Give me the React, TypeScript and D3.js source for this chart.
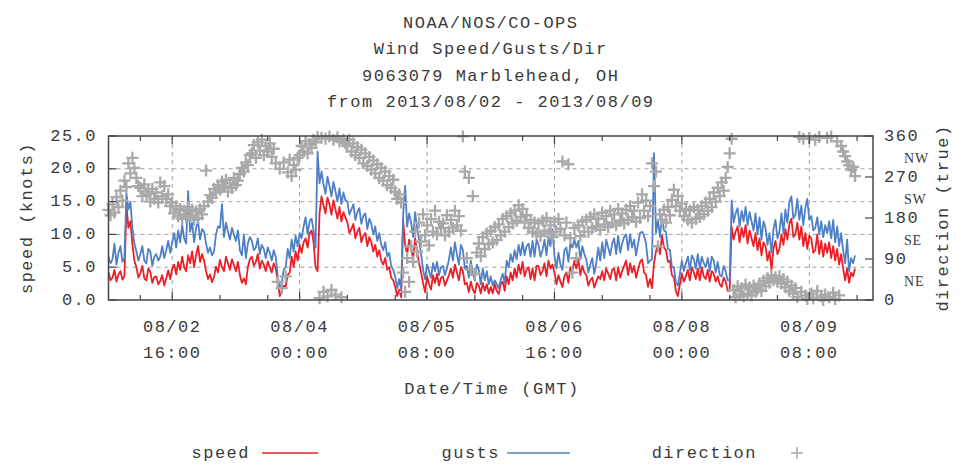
import * as d3 from "d3";

// 30-minute samples starting 2013/08/02 00:00 GMT
const speed = [
  4.2, 3.0, 3.4, 4.6, 2.8, 3.9, 4.4, 3.1, 3.6, 14.5, 11.0, 12.0, 8.5, 6.0, 5.0, 3.4, 4.1, 5.2, 3.3, 3.0, 4.8, 4.3, 2.6, 3.5,
  3.6, 2.4, 2.9, 3.8, 2.2, 3.3, 4.5, 3.2, 4.8, 5.4, 3.9, 5.8, 4.6, 6.6, 5.0, 4.4, 6.8, 5.6, 7.4, 5.0, 6.9, 8.2, 5.8, 7.0,
  6.0, 4.4, 3.2, 3.9, 2.7, 3.5, 5.1, 4.2, 6.1, 5.0, 4.4, 6.6, 5.6, 4.6, 6.2, 5.3, 4.4, 5.8, 3.8, 2.6, 3.3, 2.4, 5.0, 6.2,
  6.6, 5.2, 5.8, 7.0, 4.8, 6.0, 5.4, 4.4, 5.9, 5.0, 4.2, 5.6, 4.8, 3.0, 0.6, 1.4, 2.2, 2.0, 3.8, 4.2, 6.6, 5.0, 7.4, 6.0,
  8.4, 7.2, 8.8, 9.4, 8.0, 10.2, 10.6, 8.8, 5.0, 4.4, 13.2, 15.8, 14.4, 13.2, 15.6, 14.6, 13.0, 15.2, 13.8, 12.4, 14.2, 12.0, 13.4, 12.6,
  11.8, 10.2, 10.8, 11.6, 9.4, 10.4, 11.0, 8.8, 9.8, 10.2, 8.2, 9.6, 8.8, 7.4, 8.4, 6.6, 7.6, 6.0, 5.4, 6.4, 4.6, 5.0, 3.4, 3.0,
  2.0, 0.6, 1.6, 0.4, 12.2, 8.4, 7.0, 9.2, 8.0, 6.2, 9.4, 7.4, 5.6, 4.2, 2.6, 1.2, 3.6, 2.4, 1.6, 3.8, 2.6, 4.0, 2.2, 3.4,
  3.6, 2.2, 3.0, 3.8, 4.8, 3.4, 5.4, 4.2, 3.0, 5.0, 4.4, 2.4, 2.6, 1.2, 2.8, 1.6, 1.0, 2.6, 2.2, 1.0, 2.6, 1.4, 2.4, 1.0,
  2.0, 1.0, 2.4, 1.4, 0.9, 2.4, 2.8, 1.4, 3.6, 2.4, 4.2, 3.0, 4.8, 3.4, 5.4, 4.0, 5.8, 3.6, 4.6, 5.0, 3.2, 4.8, 3.0, 5.2,
  5.2, 3.8, 4.4, 5.6, 3.6, 6.0, 4.8, 5.4, 4.2, 2.4, 3.8, 2.8, 2.0, 3.6, 4.2, 2.6, 5.0, 4.4, 6.0, 4.8, 6.2, 3.8, 5.2, 4.2,
  3.8, 2.2, 3.0, 3.4, 1.9, 2.8, 3.6, 3.2, 4.4, 3.0, 4.8, 4.0, 3.2, 4.6, 4.8, 3.0, 5.0, 3.4, 4.4, 5.2, 6.0, 3.8, 5.6, 4.2,
  5.2, 3.4, 4.6, 5.8, 6.2, 4.2, 3.8, 2.0, 3.2, 1.8, 5.6, 7.4, 8.6, 7.0, 9.8, 8.0, 7.6, 5.8, 6.0, 3.8, 3.4, 1.4, 0.6, 2.4,
  4.0, 2.8, 3.6, 4.6, 3.0, 5.0, 4.2, 3.2, 4.8, 3.0, 5.0, 3.6, 3.2, 4.6, 2.8, 4.4, 4.0, 2.8, 3.6, 2.4, 2.0, 3.4, 2.8, 1.4,
  1.4, 11.2, 9.2, 10.4, 11.2, 8.8, 11.0, 9.6, 11.4, 8.6, 10.6, 9.4, 8.2, 10.2, 7.6, 9.4, 6.8, 8.8, 8.2, 6.0, 7.4, 4.6, 7.8, 9.0,
  7.0, 7.8, 10.0, 8.4, 10.8, 9.2, 11.6, 12.4, 9.6, 10.0, 11.8, 9.2, 11.2, 8.2, 10.2, 7.8, 9.8, 9.4, 7.2, 7.6, 10.0, 7.0, 9.0, 6.6,
  8.6, 7.2, 8.8, 6.4, 8.2, 6.0, 7.8, 5.4, 7.0, 4.8, 3.0, 4.8, 2.6, 4.2, 3.6, 4.8,
];

const gusts = [
  6.6, 5.6, 6.2, 8.6, 5.4, 7.2, 8.2, 5.8, 6.4, 16.2, 13.8, 15.0, 11.0, 8.6, 7.4, 6.0, 7.0, 8.2, 6.0, 5.6, 7.8, 7.4, 5.2, 6.6,
  7.0, 6.0, 6.6, 8.2, 6.4, 7.6, 9.0, 7.2, 8.8, 10.2, 8.0, 10.6, 8.8, 11.4, 9.4, 8.6, 16.6, 10.4, 11.8, 8.8, 11.0, 12.0, 9.2, 10.8,
  10.4, 8.6, 7.2, 8.0, 6.8, 7.4, 10.0, 11.2, 11.0, 14.6, 9.6, 11.8, 10.4, 9.2, 11.0, 10.0, 9.0, 10.6, 7.6, 6.8, 10.0, 6.4, 8.6, 9.6,
  9.0, 7.6, 8.0, 9.4, 7.0, 8.4, 7.8, 6.4, 8.0, 7.2, 6.0, 7.6, 6.6, 3.6, 1.8, 2.6, 4.6, 5.0, 7.8, 6.4, 9.2, 7.4, 9.8, 8.2,
  10.2, 9.4, 11.2, 12.6, 10.0, 12.0, 12.4, 10.6, 8.0, 22.6, 17.8, 19.6, 17.6, 16.2, 18.8, 17.4, 15.8, 18.0, 16.6, 15.0, 17.0, 14.6, 16.4, 15.2,
  15.0, 13.0, 13.8, 14.6, 12.2, 13.4, 14.0, 11.6, 12.8, 13.2, 10.8, 12.4, 11.6, 10.0, 11.2, 9.0, 10.2, 8.4, 7.6, 8.8, 6.6, 7.2, 5.2, 4.6,
  3.6, 1.8, 3.2, 1.6, 13.0, 17.4, 11.2, 13.2, 11.8, 9.6, 13.4, 11.0, 9.2, 7.0, 4.6, 3.2, 5.4, 4.4, 3.4, 5.6, 4.4, 5.8, 3.8, 5.0,
  5.2, 3.8, 4.8, 6.2, 8.0, 6.0, 8.8, 7.0, 5.4, 8.4, 7.6, 4.8, 5.2, 3.4, 6.0, 4.0, 3.0, 5.4, 4.6, 2.4, 4.8, 3.0, 4.4, 2.4,
  3.6, 2.2, 3.0, 2.4, 1.8, 3.0, 4.0, 2.6, 6.0, 5.0, 7.0, 5.8, 7.6, 6.2, 8.4, 6.8, 8.8, 6.8, 8.2, 8.6, 6.6, 9.0, 6.6, 9.2,
  8.4, 6.6, 7.6, 9.2, 6.8, 9.6, 8.2, 10.8, 6.8, 4.8, 7.2, 5.4, 4.6, 7.6, 8.0, 5.8, 8.6, 8.0, 9.2, 8.0, 9.0, 6.2, 8.2, 7.0,
  6.2, 4.2, 5.4, 6.4, 4.0, 5.6, 8.0, 6.0, 8.8, 6.4, 9.2, 8.0, 6.8, 8.6, 9.4, 7.0, 9.8, 7.2, 8.6, 9.6, 10.0, 7.6, 10.0, 8.0,
  9.2, 6.8, 8.6, 10.2, 10.4, 9.8, 8.6, 5.6, 6.0, 6.2, 22.4, 10.2, 12.2, 9.6, 12.6, 10.6, 10.4, 7.8, 7.6, 5.0, 5.0, 2.6, 2.2, 4.0,
  6.0, 4.4, 5.6, 6.6, 4.6, 6.8, 6.2, 4.8, 7.0, 4.8, 6.6, 5.6, 5.0, 6.4, 4.4, 6.6, 6.0, 4.2, 5.8, 3.8, 3.6, 5.2, 4.4, 3.0,
  3.0, 15.2, 11.8, 13.2, 14.0, 11.2, 13.6, 12.0, 14.2, 11.4, 13.4, 12.0, 10.6, 13.2, 10.0, 12.6, 9.2, 12.0, 11.0, 8.4, 10.2, 7.2, 10.8, 12.2,
  9.4, 10.4, 13.2, 10.2, 13.8, 11.8, 15.0, 15.8, 12.4, 13.0, 15.4, 12.2, 14.4, 11.4, 14.0, 15.4, 12.2, 12.8, 10.6, 11.0, 12.6, 10.0, 12.0, 9.6,
  11.4, 10.2, 12.0, 9.4, 12.2, 8.8, 11.2, 8.2, 10.2, 7.6, 5.6, 9.2, 4.4, 6.4, 5.6, 6.8,
];

const direction = [
  198, 186, 210, 192, 226, 204, 240, 218, 262, 248, 300, 278, 312, 290, 268, 250, 246, 228, 254, 232, 238, 216, 244, 222,
  236, 214, 258, 228, 250, 222, 232, 206, 214, 190, 206, 184, 200, 178, 196, 182, 204, 186, 198, 176, 194, 180, 200, 188,
  206, 284, 216, 230, 224, 244, 236, 252, 242, 260, 248, 264, 238, 256, 246, 268, 252, 262, 276, 290, 282, 302, 296, 318,
  322, 340, 312, 346, 328, 352, 318, 338, 326, 344, 314, 332, 300, 40, 288, 26, 302, 52, 280, 308, 272, 296, 286, 312,
  318, 338, 326, 348, 322, 342, 334, 352, 346, 358, 4, 356, 18, 354, 8, 359, 22, 352, 12, 357, 348, 6, 352, 344,
  338, 352, 326, 344, 318, 336, 312, 330, 300, 322, 294, 314, 286, 306, 278, 298, 268, 290, 262, 282, 252, 272, 246, 264,
  238, 222, 232, 214, 60, 18, 92, 40, 118, 84, 150, 106, 170, 128, 188, 142, 164, 120, 178, 150, 196, 144, 172, 158,
  168, 142, 186, 150, 176, 158, 196, 164, 184, 152, 359, 282, 92, 268, 66, 228, 58, 104, 124, 96, 138, 112, 146, 122,
  152, 126, 160, 132, 166, 142, 178, 150, 184, 160, 190, 168, 196, 174, 208, 182, 200, 170, 186, 158, 176, 150, 170, 146,
  168, 140, 174, 152, 180, 146, 164, 138, 172, 150, 178, 156, 304, 142, 170, 298, 136, 60, 158, 92, 164, 140, 172, 150,
  176, 150, 182, 158, 188, 162, 178, 154, 192, 166, 184, 160, 196, 170, 188, 164, 200, 174, 190, 168, 198, 176, 206, 182,
  196, 172, 214, 180, 232, 196, 218, 184, 206, 300, 250, 282, 118, 188, 176, 198, 170, 204, 186, 220, 242, 206, 228, 196,
  212, 184, 200, 176, 196, 170, 204, 178, 198, 182, 206, 188, 214, 196, 222, 204, 236, 216, 246, 228, 258, 240, 268, 292,
  322, 354, 22, 6, 30, 12, 26, 8, 34, 14, 28, 10, 32, 18, 24, 36, 20, 42, 30, 48, 38, 54, 44, 50,
  40, 52, 36, 46, 28, 40, 20, 32, 14, 26, 6, 358, 18, 354, 10, 2, 356, 14, 4, 352, 20, 358, 8, 0,
  12, 356, 6, 359, 16, 2, 348, 10, 338, 326, 316, 304, 296, 286, 292, 272,
];

const startTime = new Date("2013-08-02T00:00:00Z");
const endTime = new Date("2013-08-10T00:00:00Z");
const dateTicks = [
  "2013-08-02T16:00:00Z",
  "2013-08-04T00:00:00Z",
  "2013-08-05T08:00:00Z",
  "2013-08-06T16:00:00Z",
  "2013-08-08T00:00:00Z",
  "2013-08-09T08:00:00Z",
];
const minorDateTicks = [
  "2013-08-02T08:00:00Z",
  "2013-08-03T04:00:00Z",
  "2013-08-03T16:00:00Z",
  "2013-08-04T12:00:00Z",
  "2013-08-05T00:00:00Z",
  "2013-08-05T20:00:00Z",
  "2013-08-06T08:00:00Z",
  "2013-08-07T04:00:00Z",
  "2013-08-07T16:00:00Z",
  "2013-08-08T12:00:00Z",
  "2013-08-09T00:00:00Z",
  "2013-08-09T20:00:00Z",
];
const speedTicks = [0, 5, 10, 15, 20, 25];
const dirTicks = [0, 90, 180, 270, 360];
const compassNames = ["NE", "SE", "SW", "NW"];
const compassDeg = [45, 135, 225, 315];
const titleLines = [
  "NOAA/NOS/CO-OPS",
  "Wind Speed/Gusts/Dir",
  "9063079 Marblehead, OH",
  "from 2013/08/02 - 2013/08/09",
];

const W = 969;
const H = 465;
const plot = { left: 108.5, right: 873, top: 136, bottom: 300 };
const MONO = "'Liberation Mono', 'DejaVu Sans Mono', monospace";
const TEXT = "#3a3a3a";
const RED = "#ea1f27";
const BLUE = "#4f80c6";
const GRAY = "#a9a9a9";

export default function App() {
  const times = speed.map((_, i) => new Date(startTime.getTime() + i * 30 * 60 * 1000));

  const x = d3.scaleUtc().domain([startTime, endTime]).range([plot.left, plot.right]);
  const y = d3.scaleLinear().domain([0, 25]).range([plot.bottom, plot.top]);
  const y2 = d3.scaleLinear().domain([0, 360]).range([plot.bottom, plot.top]);

  const line = d3
    .line<number>()
    .x((_, i) => x(times[i]))
    .y((d) => y(d));

  const fmtDate = d3.utcFormat("%m/%d");
  const fmtTime = d3.utcFormat("%H:%M");
  const fmtSpeed = d3.format(".1f");

  const textStyle = { fontFamily: MONO, fontSize: 17, letterSpacing: 1.5, fill: TEXT };
  const plus = (cx: number, cy: number, r: number) =>
    `M${cx - r},${cy}H${cx + r}M${cx},${cy - r}V${cy + r}`;

  return (
    <svg
      width={W}
      height={H}
      style={{ position: "absolute", left: 0, top: 0, background: "#fff" }}
    >
      <rect width={W} height={H} fill="#fff" />

      {/* title */}
      {titleLines.map((t, i) => (
        <text key={t} x={(plot.left + plot.right) / 2} y={28 + i * 26.3} textAnchor="middle" {...textStyle}>
          {t}
        </text>
      ))}

      {/* grid */}
      <g stroke="#a0a0a0" strokeWidth={1} strokeDasharray="4,4">
        {speedTicks.slice(1, -1).map((v) => (
          <line key={v} x1={plot.left} x2={plot.right} y1={y(v)} y2={y(v)} />
        ))}
        {dateTicks.map((d) => (
          <line key={d} x1={x(new Date(d))} x2={x(new Date(d))} y1={plot.top} y2={plot.bottom} />
        ))}
      </g>

      {/* series */}
      <path d={line(speed) ?? ""} fill="none" stroke={RED} strokeWidth={1.8} strokeLinejoin="round" />
      <path d={line(gusts) ?? ""} fill="none" stroke={BLUE} strokeWidth={1.8} strokeLinejoin="round" />
      <path
        d={direction.map((d, i) => plus(x(times[i]), y2(d), 6)).join("")}
        fill="none"
        stroke={GRAY}
        strokeWidth={2.3}
      />

      {/* border and ticks */}
      <rect
        x={plot.left}
        y={plot.top}
        width={plot.right - plot.left}
        height={plot.bottom - plot.top}
        fill="none"
        stroke="#444"
        strokeWidth={1.5}
      />
      <g stroke="#444" strokeWidth={1.2}>
        {speedTicks.map((v) => (
          <line key={v} x1={plot.left} x2={plot.left + 8} y1={y(v)} y2={y(v)} />
        ))}
        {dirTicks.map((v) => (
          <line key={v} x1={plot.right - 8} x2={plot.right} y1={y2(v)} y2={y2(v)} />
        ))}
        {dateTicks.map((d) => {
          const px = x(new Date(d));
          return (
            <g key={d}>
              <line x1={px} x2={px} y1={plot.bottom} y2={plot.bottom - 8} />
              <line x1={px} x2={px} y1={plot.top} y2={plot.top + 8} />
            </g>
          );
        })}
        {minorDateTicks.map((d) => {
          const px = x(new Date(d));
          return (
            <g key={d}>
              <line x1={px} x2={px} y1={plot.bottom} y2={plot.bottom - 5} />
              <line x1={px} x2={px} y1={plot.top} y2={plot.top + 5} />
            </g>
          );
        })}
      </g>

      {/* left axis labels */}
      {speedTicks.map((v) => (
        <text key={v} x={97} y={y(v)} textAnchor="end" dominantBaseline="central" {...textStyle}>
          {fmtSpeed(v)}
        </text>
      ))}
      <text
        transform={`translate(27,${(plot.top + plot.bottom) / 2}) rotate(-90)`}
        textAnchor="middle"
        dominantBaseline="central"
        {...textStyle}
      >
        speed (knots)
      </text>

      {/* right axis labels */}
      {dirTicks.map((v) => (
        <text key={v} x={884} y={y2(v)} dominantBaseline="central" {...textStyle}>
          {v}
        </text>
      ))}
      {compassNames.map((n, i) => (
        <text
          key={n}
          x={904}
          y={y2(compassDeg[i]) + 2}
          dominantBaseline="central"
          fontFamily="'Liberation Serif', serif"
          fontSize={14}
          letterSpacing={0.8}
          fill={TEXT}
        >
          {n}
        </text>
      ))}
      <text
        transform={`translate(943,${(plot.top + plot.bottom) / 2}) rotate(-90)`}
        textAnchor="middle"
        dominantBaseline="central"
        {...textStyle}
      >
        direction (true)
      </text>

      {/* x axis labels */}
      {dateTicks.map((d) => {
        const px = x(new Date(d));
        return (
          <g key={d}>
            <text x={px} y={332} textAnchor="middle" {...textStyle}>
              {fmtDate(new Date(d))}
            </text>
            <text x={px} y={358} textAnchor="middle" {...textStyle}>
              {fmtTime(new Date(d))}
            </text>
          </g>
        );
      })}
      <text x={492} y={394} textAnchor="middle" {...textStyle}>
        Date/Time (GMT)
      </text>

      {/* legend */}
      <text x={250} y={458} textAnchor="end" {...textStyle}>speed</text>
      <line x1={262} x2={318} y1={453} y2={453} stroke={RED} strokeWidth={1.5} />
      <text x={500} y={458} textAnchor="end" {...textStyle}>gusts</text>
      <line x1={507} x2={570} y1={453} y2={453} stroke={BLUE} strokeWidth={1.5} />
      <text x={757} y={458} textAnchor="end" {...textStyle}>direction</text>
      <path d={plus(797, 453, 6)} stroke={GRAY} strokeWidth={1.5} fill="none" />
    </svg>
  );
}
